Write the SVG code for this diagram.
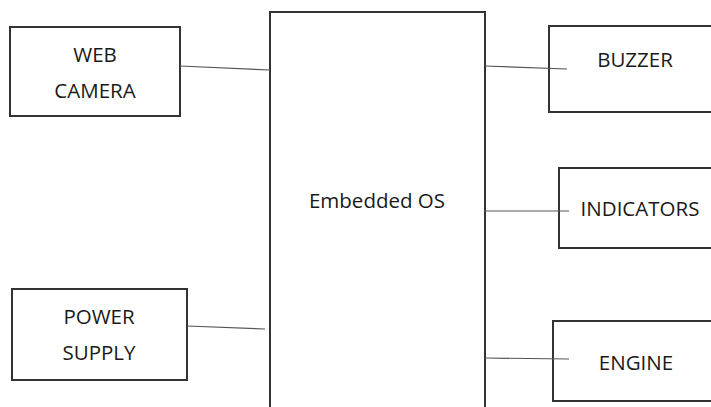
<svg xmlns="http://www.w3.org/2000/svg" width="711" height="407" viewBox="0 0 711 407">
<style>
.box{fill:#fff;stroke:#333;stroke-width:2}
.lbl{font-family:"Open Sans","Liberation Sans",sans-serif;font-size:20.5px;fill:#1a1a1a;text-anchor:middle}
.c{stroke:#555;stroke-width:1.2;fill:none}
</style>
<rect width="711" height="407" fill="#fff"/>
<g id="os"><rect class="box" x="270" y="12" width="215" height="400"/><text class="lbl" x="377" y="208">Embedded OS</text></g>
<g id="webcam"><rect class="box" x="10" y="27" width="170" height="89"/><text class="lbl" x="95" y="62">WEB</text><text class="lbl" x="95" y="98">CAMERA</text></g>
<g id="power"><rect class="box" x="12" y="289" width="175" height="91"/><text class="lbl" x="99" y="324">POWER</text><text class="lbl" x="99" y="360">SUPPLY</text></g>
<g id="buzzer"><rect class="box" x="549" y="26" width="170" height="86"/><text class="lbl" x="635" y="67">BUZZER</text></g>
<g id="indicators"><rect class="box" x="559" y="168" width="160" height="80"/><text class="lbl" x="640" y="216">INDICATORS</text></g>
<g id="engine"><rect class="box" x="553" y="321" width="166" height="80"/><text class="lbl" x="636" y="370">ENGINE</text></g>
<g id="connectors">
<line class="c" x1="180" y1="66" x2="270" y2="70"/>
<line class="c" x1="187" y1="326" x2="265" y2="329"/>
<line class="c" x1="485" y1="66" x2="567" y2="69"/>
<line class="c" x1="484" y1="211" x2="569" y2="211"/>
<line class="c" x1="485" y1="358" x2="569" y2="359"/>
</g>
</svg>
